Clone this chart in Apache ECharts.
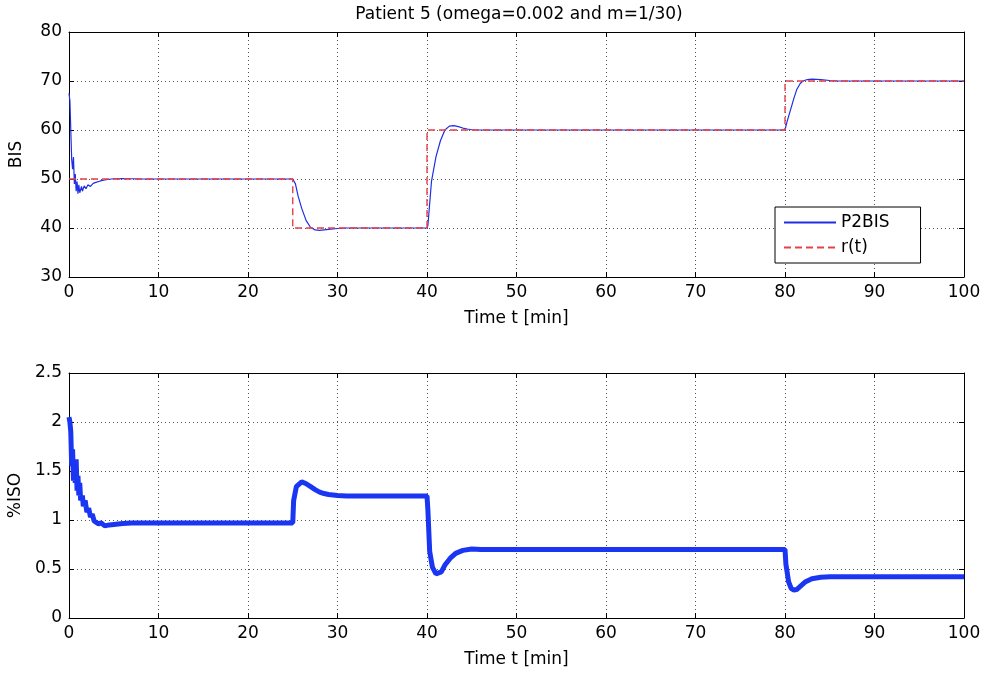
<!DOCTYPE html>
<html>
<head>
<meta charset="utf-8">
<script src="https://cdn.jsdelivr.net/npm/echarts@6/dist/echarts.min.js"></script>
<style>html,body{margin:0;padding:0;background:#fff}#c{width:984px;height:673px}</style>
</head>
<body>
<div id="c"></div>
<script>
// ---- Data ----
var titleText = 'Patient 5 (omega=0.002 and m=1/30)';
var xTicks = [0,10,20,30,40,50,60,70,80,90,100];

// BIS response (P2BIS)
var tBis = [0,0.1,0.2,0.3,0.4,0.5,0.6,0.7,0.8,0.9,1.0,1.1,1.2,1.4,1.5,1.7,1.9,2.1,2.4,2.7,3.0,3.5,4.0,4.5,5.0,6.0,7.0,8,
  25,25.3,25.6,26,26.5,27,27.5,28,28.5,29,30,31,
  40,40.1,40.5,41,41.5,42,42.5,43,43.5,44,44.5,45,46,
  80,80.2,80.6,81,81.3,81.7,82,82.5,83,84,85,86,100];
var bis = [67.5,66,60,54,52,54.5,49,51,47.5,49.5,47,48.8,47.2,48.5,47.5,48.6,48,48.8,48.5,49.1,49.3,49.6,49.8,49.95,50.05,50.1,50.05,50,
  50,49,46.5,44,41.5,40.1,39.6,39.5,39.6,39.7,39.9,40,
  40,40.5,49.5,54.5,57.8,60,60.8,60.9,60.7,60.4,60.2,60.05,60,
  60,61.5,64,66.5,68.2,69.5,70,70.3,70.4,70.3,70.1,70,70];

// Reference r(t)
var tRef = [0,25,25,40,40,80,80,100];
var ref  = [50,50,40,40,60,60,70,70];

// %ISO input
var tIso = [0,0.1,0.2,0.3,0.4,0.5,0.6,0.7,0.8,0.9,1.0,1.1,1.2,1.3,1.5,1.6,1.8,2.0,2.2,2.4,2.6,2.8,3.0,3.3,3.6,4.0,4.5,5,6,7,
  25,25.1,25.4,26,26.5,27,27.5,28,28.5,29,30,31,
  40,40.1,40.3,40.6,41,41.2,41.6,42,42.6,43.2,44,45,46,
  80,80.1,80.4,80.7,81,81.3,81.8,82.3,83,84,85,100];
var iso = [2.05,2.0,1.9,1.55,1.72,1.4,1.5,1.38,1.62,1.3,1.45,1.25,1.38,1.2,1.25,1.14,1.2,1.08,1.12,1.03,1.06,0.99,1.01,0.96,0.97,0.94,0.95,0.955,0.965,0.97,
  0.97,1.2,1.34,1.39,1.37,1.34,1.31,1.285,1.27,1.26,1.25,1.245,
  1.245,1.1,0.68,0.52,0.45,0.43,0.47,0.54,0.61,0.66,0.69,0.705,0.70,
  0.70,0.55,0.37,0.30,0.285,0.29,0.33,0.37,0.40,0.415,0.42,0.42];

function pairs(t, v){ return t.map(function(x,i){ return [x, v[i]]; }); }

var FONT = 'DejaVu Sans';
var FS = 17;
var gridLine = {show:true, lineStyle:{color:'#555', type:[1,3], width:1}};
function xMain(gi){
  return {gridIndex:gi, type:'value', min:0, max:100, interval:10, position:'bottom',
    axisLine:{show:true, onZero:false, lineStyle:{color:'#000', width:1}},
    axisTick:{show:true, inside:true, length:5, lineStyle:{color:'#000'}},
    axisLabel:{color:'#000', fontFamily:FONT, fontSize:FS, margin:7},
    splitLine:gridLine,
    name:'Time t [min]', nameLocation:'middle', nameGap:33,
    nameTextStyle:{color:'#000', fontFamily:FONT, fontSize:FS}};
}
function xTop(gi){
  return {gridIndex:gi, type:'value', min:0, max:100, interval:10, position:'top',
    axisLine:{show:true, onZero:false, lineStyle:{color:'#000', width:1}},
    axisTick:{show:true, inside:true, length:5, lineStyle:{color:'#000'}},
    axisLabel:{show:false}, splitLine:{show:false}};
}
function yMain(gi, min, max, interval, name){
  return {gridIndex:gi, type:'value', min:min, max:max, interval:interval, position:'left',
    axisLine:{show:true, onZero:false, lineStyle:{color:'#000', width:1}},
    axisTick:{show:true, inside:true, length:5, lineStyle:{color:'#000'}},
    axisLabel:{color:'#000', fontFamily:FONT, fontSize:FS, margin:7},
    splitLine:gridLine,
    name:name, nameLocation:'middle', nameGap:44, nameRotate:90,
    nameTextStyle:{color:'#000', fontFamily:FONT, fontSize:FS}};
}
function yRight(gi, min, max, interval){
  return {gridIndex:gi, type:'value', min:min, max:max, interval:interval, position:'right',
    axisLine:{show:true, onZero:false, lineStyle:{color:'#000', width:1}},
    axisTick:{show:true, inside:true, length:5, lineStyle:{color:'#000'}},
    axisLabel:{show:false}, splitLine:{show:false}};
}

var chart = echarts.init(document.getElementById('c'), null, {renderer:'canvas'});
chart.setOption({
  animation:false,
  backgroundColor:'#fff',
  title:{text:titleText, left:514, top:1, textAlign:'center',
    textStyle:{color:'#000', fontFamily:FONT, fontSize:FS, fontWeight:'normal'}},
  grid:[
    {left:69, right:20, top:32, height:245, outerBoundsMode:'none', containLabel:false},
    {left:69, right:20, top:373, height:245, outerBoundsMode:'none', containLabel:false}
  ],
  xAxis:[xMain(0), xTop(0), xMain(1), xTop(1)],
  yAxis:[yMain(0,30,80,10,'BIS'), yRight(0,30,80,10), yMain(1,0,2.5,0.5,'%ISO'), yRight(1,0,2.5,0.5)],
  legend:{
    data:['P2BIS','r(t)'], orient:'vertical', left:775, top:207,
    backgroundColor:'#fff', borderColor:'#000', borderWidth:1,
    padding:[7,31,7,8], itemGap:8, itemWidth:52, itemHeight:12,
    itemStyle:{opacity:0},
    textStyle:{color:'#000', fontFamily:FONT, fontSize:FS}
  },
  series:[
    {name:'P2BIS', type:'line', xAxisIndex:0, yAxisIndex:0, data:pairs(tBis,bis),
      symbol:'none', lineStyle:{color:'#1f2ee6', width:1.2}, itemStyle:{color:'#1f2ee6'}, z:3},
    {name:'r(t)', type:'line', xAxisIndex:0, yAxisIndex:0, data:pairs(tRef,ref),
      symbol:'none', lineStyle:{color:'#e8404a', width:1.4, type:[7,4]}, itemStyle:{color:'#e8404a'}, z:4},
    {name:'%ISO', type:'line', xAxisIndex:2, yAxisIndex:2, data:pairs(tIso,iso),
      symbol:'none', lineStyle:{color:'#1a36f2', width:5}, itemStyle:{color:'#1a36f2'}, z:3}
  ]
});
</script>
</body>
</html>
